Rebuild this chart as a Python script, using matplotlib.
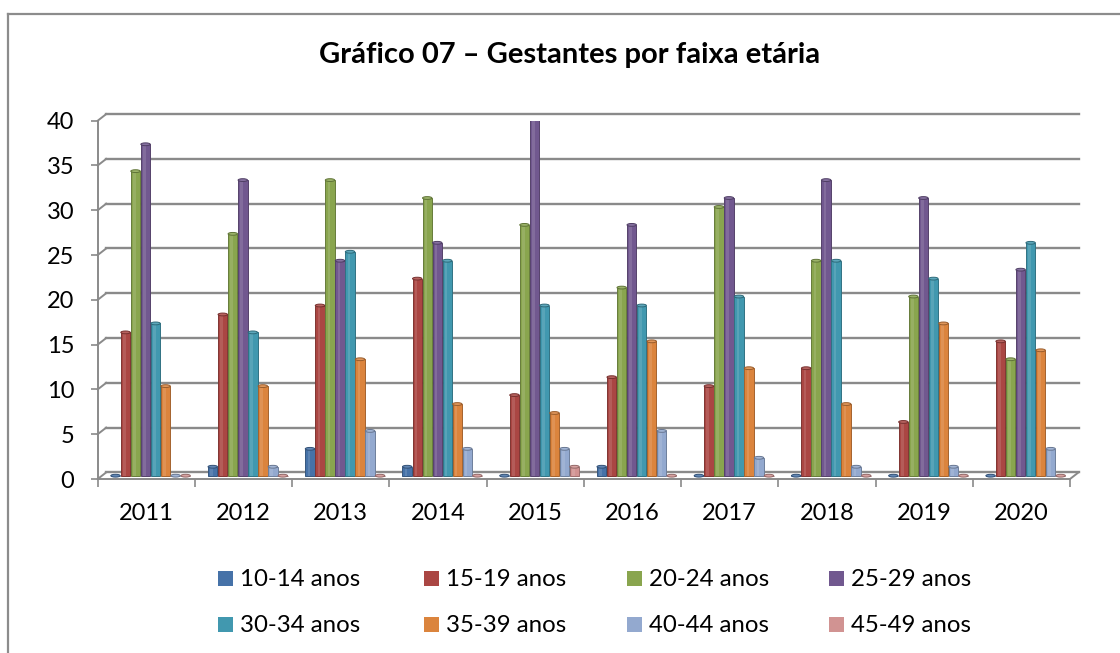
import matplotlib
matplotlib.use('Agg')
import matplotlib.pyplot as plt
from matplotlib.patches import Ellipse, Rectangle
from matplotlib.lines import Line2D
import numpy as np

plt.rcParams['font.family'] = ['Lato', 'DejaVu Sans']

# ---------------- data ----------------
years = ['2011', '2012', '2013', '2014', '2015', '2016', '2017', '2018', '2019', '2020']
series_names = ['10-14 anos', '15-19 anos', '20-24 anos', '25-29 anos',
                '30-34 anos', '35-39 anos', '40-44 anos', '45-49 anos']
s10_14 = [0, 1, 3, 1, 0, 1, 0, 0, 0, 0]
s15_19 = [16, 18, 19, 22, 9, 11, 10, 12, 6, 15]
s20_24 = [34, 27, 33, 31, 28, 21, 30, 24, 20, 13]
s25_29 = [37, 33, 24, 26, 40, 28, 31, 33, 31, 23]
s30_34 = [17, 16, 25, 24, 19, 19, 20, 24, 22, 26]
s35_39 = [10, 10, 13, 8, 7, 15, 12, 8, 17, 14]
s40_44 = [0, 1, 5, 3, 3, 5, 2, 1, 1, 3]
s45_49 = [0, 0, 0, 0, 1, 0, 0, 0, 0, 0]
series = [s10_14, s15_19, s20_24, s25_29, s30_34, s35_39, s40_44, s45_49]
y_ticks = [0, 5, 10, 15, 20, 25, 30, 35, 40]
title = 'Gráfico 07 – Gestantes por faixa etária'

colors = ['#4672A8', '#AA4643', '#89A54E', '#71588F',
          '#4198AF', '#DB843D', '#93A9CF', '#D19392']

def shade(c, f):
    r, g, b = matplotlib.colors.to_rgb(c)
    if f < 1:
        return (r * f, g * f, b * f)
    f = f - 1
    return (r + (1 - r) * f, g + (1 - g) * f, b + (1 - b) * f)

# ---------------- layout ----------------
W, H = 1120, 653
fig = plt.figure(figsize=(W / 100, H / 100), dpi=100)

left, right, top, bottom = 97.7, 1070.0, 120.7, 479.0
ax = fig.add_axes([left / W, 1 - bottom / H, (right - left) / W, (bottom - top) / H])
ax.set_xlim(-0.5, len(years) - 0.5)
ax.set_ylim(0, 40)
ax.patch.set_visible(False)
for s in ax.spines.values():
    s.set_visible(False)

px_x = (right - left) / len(years)
px_y = (bottom - top) / 40.0
ddx = 8.5 / px_x      # depth offset in data units
ddy = 6.6 / px_y

grid_c = '#8a8a8a'
xmin, xmax = -0.5, len(years) - 0.5

# back wall gridlines + left wall diagonals
for yv in y_ticks:
    ax.add_line(Line2D([xmin + ddx, xmax + ddx], [yv + ddy, yv + ddy], color=grid_c,
                       lw=1.7, zorder=1, clip_on=False))
    ax.add_line(Line2D([xmin, xmin + ddx], [yv, yv + ddy], color=grid_c,
                       lw=1.4, zorder=1, clip_on=False))
# floor front edge and right diagonal
ax.add_line(Line2D([xmin, xmax], [0, 0], color=grid_c, lw=1.4, zorder=1, clip_on=False))
ax.add_line(Line2D([xmax, xmax + ddx], [0, ddy], color=grid_c, lw=1.4, zorder=1, clip_on=False))
# front y axis
ax.add_line(Line2D([xmin, xmin], [0, 40], color=grid_c, lw=1.4, zorder=1, clip_on=False))

# ---------------- bars ----------------
x = np.arange(len(years))
pitch = 0.103
bw = 0.097
cap_h = 2.8 / px_y
n = len(series)
for k, vals in enumerate(series):
    xs = x + (k - (n - 1) / 2) * pitch + ddx / 2
    c = colors[k]
    ax.bar(xs, vals, width=bw, bottom=ddy / 2, color=c,
           edgecolor=shade(c, 0.75), linewidth=0.7, zorder=3)
    # highlight stripe (cylinder look)
    ax.bar(xs - bw * 0.12, vals, width=bw * 0.28, bottom=ddy / 2,
           color='white', alpha=0.12, linewidth=0, zorder=3.5)
    for xi, v in zip(xs, vals):
        ax.add_patch(Ellipse((xi, v + ddy / 2), bw, cap_h, facecolor=shade(c, 1.15),
                             edgecolor=shade(c, 0.7), linewidth=0.7, zorder=4))

# ---------------- ticks ----------------
ax.set_yticks(y_ticks)
ax.set_yticklabels([str(t) for t in y_ticks])
ax.tick_params(axis='y', length=5, width=1.2, color=grid_c, pad=12,
               labelsize=17, labelcolor='black')
ax.set_xticks(x)
ax.set_xticklabels(years)
ax.tick_params(axis='x', which='major', length=0, pad=17, labelsize=17, labelcolor='black')
ax.set_xticks(np.arange(len(years) + 1) - 0.5, minor=True)
ax.tick_params(axis='x', which='minor', length=5.5, width=1.2, color=grid_c)

# ---------------- title ----------------
fig.text(570 / W, 1 - 55 / H, title, ha='center', va='center',
         fontsize=21, fontweight='bold', color='black')

# ---------------- legend ----------------
marker_x = [218, 424, 627, 829]
row_y = [578, 624]
msz = 15
for k, name in enumerate(series_names):
    r, cidx = divmod(k, 4)
    mx, my = marker_x[cidx], row_y[r]
    fig.patches.append(Rectangle((mx / W, 1 - (my + msz / 2) / H), msz / W, msz / H,
                                 transform=fig.transFigure, facecolor=colors[k],
                                 edgecolor='none'))
    fig.text((mx + 22) / W, 1 - (my + 1) / H, name, ha='left', va='center',
             fontsize=17.3, color='black')

# ---------------- outer border ----------------
fig.add_artist(Line2D([8 / W, 1.0], [1 - 14 / H, 1 - 14 / H], transform=fig.transFigure,
                      color='#8c8c8c', lw=1.6))
fig.add_artist(Line2D([8 / W, 8 / W], [0, 1 - 14 / H], transform=fig.transFigure,
                      color='#8c8c8c', lw=1.6))

fig.savefig('out.png', dpi=100)
